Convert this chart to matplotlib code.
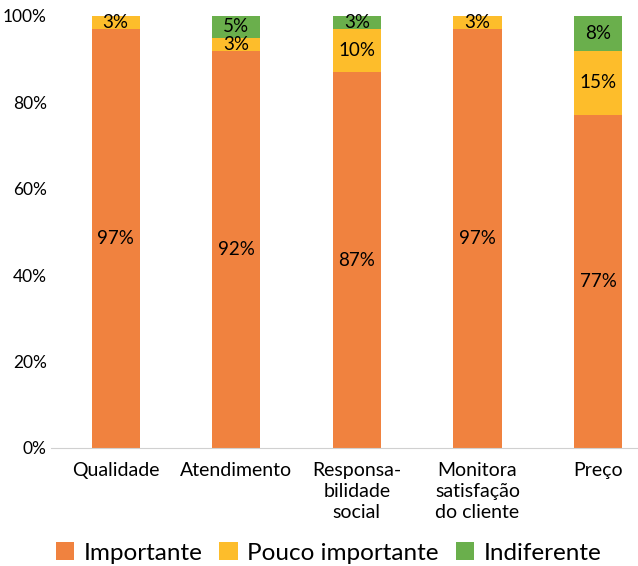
import matplotlib
matplotlib.use("Agg")
import matplotlib.pyplot as plt
import numpy as np

categories = ["Qualidade", "Atendimento", "Responsa-\nbilidade\nsocial", "Monitora\nsatisfação\ndo cliente", "Preço"]
importante = [97, 92, 87, 97, 77]
pouco = [3, 3, 10, 3, 15]
indiferente = [0, 5, 3, 0, 8]
series_names = ["Importante", "Pouco importante", "Indiferente"]
colors = ["#F0823F", "#FDBD2B", "#6AAF4C"]

plt.rcParams['font.family'] = ['Lato', 'DejaVu Sans']

fig = plt.figure(figsize=(6.38, 5.66), dpi=100)
ax = fig.add_axes([51/638, 1-448/566, 1-51/638, (448-16)/566])

x = np.arange(len(categories))
w = 0.4
bottom = np.zeros(len(categories))
for vals, name, c in zip([importante, pouco, indiferente], series_names, colors):
    vals = np.array(vals, dtype=float)
    ax.bar(x, vals, w, bottom=bottom, color=c, label=name)
    for xi, v, b in zip(x, vals, bottom):
        if v > 0:
            ax.text(xi, b + v/2, f"{int(v)}%", ha="center", va="center", fontsize=13.5, color="black")
    bottom += vals

ax.set_xlim(-0.536, 4.331)
ax.set_ylim(0, 100)
ax.set_yticks(range(0, 101, 20))
ax.set_yticklabels([f"{v}%" for v in range(0, 101, 20)], fontsize=12.5)
ax.set_xticks(x)
ax.set_xticklabels(categories, fontsize=14, linespacing=1.3)
for s in ["top", "right", "left"]:
    ax.spines[s].set_visible(False)
ax.spines["bottom"].set_color("#D0D0D0")
ax.tick_params(axis="both", length=0)
ax.tick_params(axis="x", pad=10)
ax.tick_params(axis="y", pad=3)

handles, labels = ax.get_legend_handles_labels()
fig.legend(handles, labels, loc="center", bbox_to_anchor=(0.515, 1-553/566), ncol=3,
           frameon=False, fontsize=17.5, handlelength=0.75, handleheight=0.75,
           handletextpad=0.4, columnspacing=0.7, borderpad=0)

fig.savefig("out.png", dpi=100)
